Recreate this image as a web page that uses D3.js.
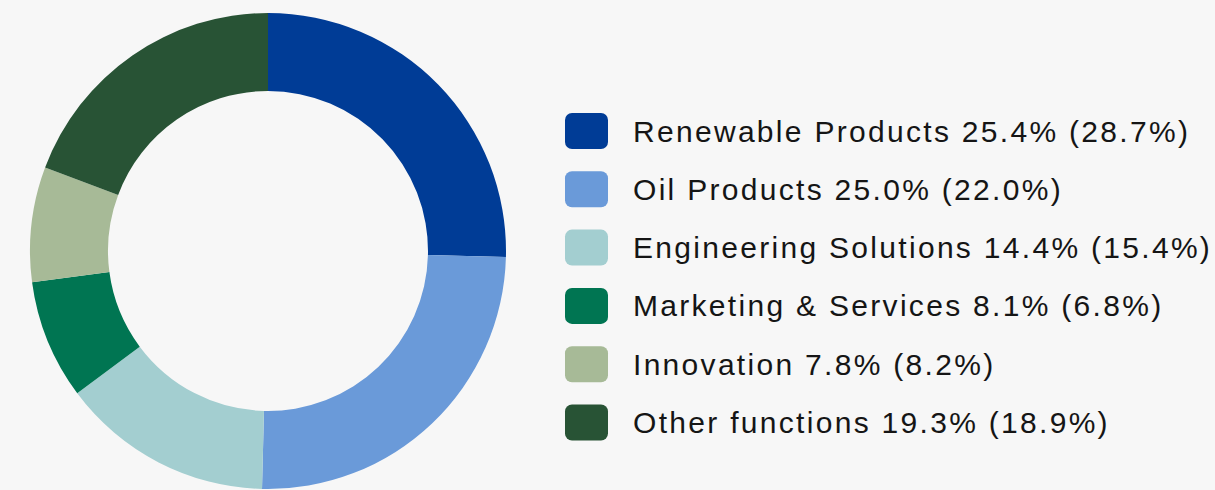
<!DOCTYPE html>
<html>
<head>
<meta charset="utf-8">
<script src="https://cdn.jsdelivr.net/npm/d3@7"></script>
<style>
  html, body { margin: 0; padding: 0; background: #f7f7f7; }
  svg { display: block; }
</style>
</head>
<body>
<svg id="chart" width="1215" height="490"></svg>
<script>
// Personnel share by business area, current year (previous year in brackets)
const categories = ["Renewable Products", "Oil Products", "Engineering Solutions", "Marketing & Services", "Innovation", "Other functions"];
const shares = [25.4, 25.0, 14.4, 8.1, 7.8, 19.3];
const previousShares = [28.7, 22.0, 15.4, 6.8, 8.2, 18.9];
const colors = ["#003c96", "#6a9ad9", "#a3ced0", "#007552", "#a7ba97", "#285335"];

const svg = d3.select("#chart");
const cx = 268, cy = 251, outerR = 238, innerR = 160;

const color = d3.scaleOrdinal().domain(categories).range(colors);

const pie = d3.pie().sort(null).value(d => d.value);
const arc = d3.arc().innerRadius(innerR).outerRadius(outerR);

const data = categories.map((c, i) => ({ name: c, value: shares[i], prev: previousShares[i] }));

svg.append("g")
  .attr("transform", `translate(${cx},${cy})`)
  .selectAll("path")
  .data(pie(data))
  .join("path")
  .attr("d", arc)
  .attr("fill", d => color(d.data.name));

// Legend
const rowY = d3.scalePoint().domain(categories).range([131, 422.5]);
const legend = svg.append("g").selectAll("g")
  .data(data)
  .join("g")
  .attr("transform", d => `translate(565,${rowY(d.name)})`);

legend.append("rect")
  .attr("x", 0).attr("y", -18)
  .attr("width", 43).attr("height", 36)
  .attr("rx", 7).attr("ry", 7)
  .attr("fill", d => color(d.name));

legend.append("text")
  .attr("x", 68).attr("y", 10.5)
  .attr("font-family", "'Liberation Sans', Arial, sans-serif")
  .attr("font-size", 30)
  .attr("letter-spacing", 2.3)
  .attr("fill", "#151515")
  .text(d => `${d.name} ${d.value.toFixed(1)}% (${d.prev.toFixed(1)}%)`);
</script>
</body>
</html>
